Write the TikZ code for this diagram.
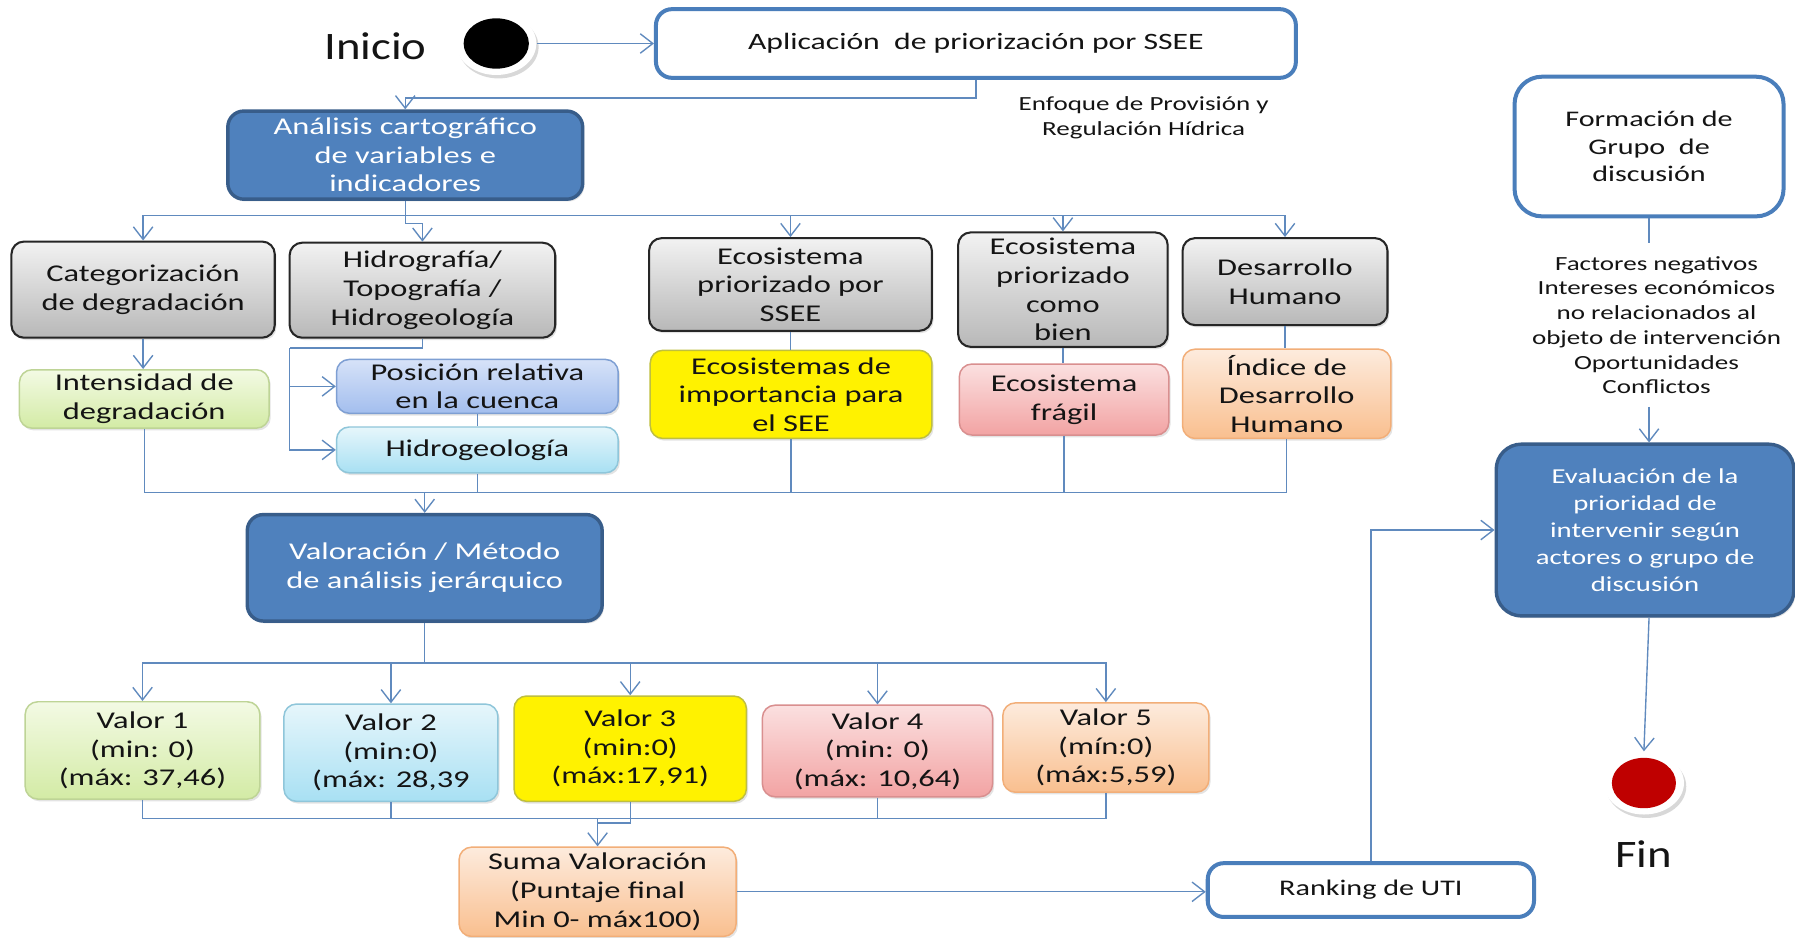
\documentclass[tikz,border=0pt]{standalone}
\usepackage{fontspec}
\setmainfont{Carlito}[FakeStretch=1.35]
\newfontfamily\bigfont{Carlito}[FakeStretch=1.2]
\usetikzlibrary{arrows.meta,shadows,calc,shapes.geometric}

\definecolor{wire}{RGB}{96,138,190}
\definecolor{frameblue}{RGB}{74,126,187}
\definecolor{fillblue}{RGB}{79,129,189}
\definecolor{darkblue}{RGB}{56,93,138}
\definecolor{ink}{RGB}{20,20,20}
\definecolor{grayT}{RGB}{242,242,242}
\definecolor{grayB}{RGB}{184,184,184}
\definecolor{grayD}{RGB}{38,38,38}
\definecolor{greenT}{RGB}{243,250,228}
\definecolor{greenB}{RGB}{211,235,165}
\definecolor{greenD}{RGB}{190,212,150}
\definecolor{periT}{RGB}{214,226,248}
\definecolor{periB}{RGB}{163,190,238}
\definecolor{periD}{RGB}{126,159,211}
\definecolor{cyanT}{RGB}{230,246,251}
\definecolor{cyanB}{RGB}{168,224,243}
\definecolor{cyanD}{RGB}{143,198,218}
\definecolor{yelD}{RGB}{191,191,63}
\definecolor{pinkT}{RGB}{251,224,224}
\definecolor{pinkB}{RGB}{242,163,163}
\definecolor{pinkD}{RGB}{217,143,143}
\definecolor{orT}{RGB}{253,235,221}
\definecolor{orB}{RGB}{249,191,143}
\definecolor{orD}{RGB}{242,174,120}

\tikzset{
  boxbase/.style={rounded corners=11pt, align=center, inner sep=2pt,
    font=\fontsize{21}{25}\selectfont, text=ink},
  softshadow/.style={drop shadow={opacity=0.22, shadow xshift=1.5pt, shadow yshift=-2pt}},
  graybox/.style={boxbase, draw=grayD, line width=1.8pt, top color=grayT, bottom color=grayB, softshadow},
  greenbox/.style={boxbase, draw=greenD, line width=1.3pt, top color=greenT, bottom color=greenB, softshadow},
  peribox/.style={boxbase, draw=periD, line width=1.3pt, top color=periT, bottom color=periB, softshadow},
  cyanbox/.style={boxbase, draw=cyanD, line width=1.3pt, top color=cyanT, bottom color=cyanB, softshadow},
  yelbox/.style={boxbase, draw=yelD, line width=1.3pt, fill=yellow, softshadow},
  pinkbox/.style={boxbase, draw=pinkD, line width=1.3pt, top color=pinkT, bottom color=pinkB, softshadow},
  orbox/.style={boxbase, draw=orD, line width=1.3pt, top color=orT, bottom color=orB, softshadow},
  bluebox/.style={boxbase, draw=darkblue, line width=3pt, fill=fillblue, text=white, rounded corners=14pt, softshadow},
  whitebox/.style={boxbase, draw=frameblue, line width=3.5pt, fill=white, rounded corners=14pt},
  wireline/.style={draw=wire, line width=1.2pt},
  conn/.style={wireline, -{Straight Barb[length=11pt,width=17pt]}},
  ring/.style={ellipse, fill=white, inner sep=0pt, drop shadow={opacity=0.3, shadow xshift=2pt, shadow yshift=-3pt}},
}

\begin{document}
\begin{tikzpicture}[x=1pt,y=-1pt]
\path[use as bounding box, fill=white] (0,0) rectangle (1568,819);

% start and end markers
\node[font=\bigfont\fontsize{34}{40}\selectfont, text=ink] (ini) at (328,40) {Inicio};
\node[ring, minimum width=70pt, minimum height=55pt] (start) at (433.5,38) {};
\fill[black] (start.center) ellipse [x radius=28.5pt, y radius=22pt];

\node[ring, minimum width=70pt, minimum height=55pt] (fin) at (1436,684) {};
\fill[red!75!black] (fin.center) ellipse [x radius=28pt, y radius=22pt];
\node[font=\bigfont\fontsize{34}{40}\selectfont, text=ink] (fintxt) at (1436,746) {Fin};

% top row
\node[whitebox, minimum width=559pt, minimum height=60pt, font=\fontsize{20.5}{25}\selectfont] (apl) at (852.5,38)
  {Aplicación\ \ de priorización por SSEE};
\node[align=center, font=\fontsize{17.5}{21.5}\selectfont, text=ink] (enf) at (999,103)
  {Enfoque de Provisión y\\Regulación Hídrica};
\node[bluebox, minimum width=310pt, minimum height=77pt] (ana) at (354,135.5)
  {Análisis cartográfico\\de variables e\\indicadores};

% first level
\node[graybox, minimum width=230pt, minimum height=84pt] (cat) at (125,253) {Categorización\\de degradación};
\node[graybox, minimum width=232pt, minimum height=83pt] (hid) at (369,253.5) {Hidrografía/\\Topografía /\\Hidrogeología};
\node[graybox, minimum width=247pt, minimum height=81pt] (eco1) at (690.5,248.5) {Ecosistema\\priorizado por\\SSEE};
\node[graybox, minimum width=183pt, minimum height=100pt] (eco2) at (928.5,253) {Ecosistema\\priorizado\\como\\bien};
\node[graybox, minimum width=179pt, minimum height=76pt] (des) at (1122.5,246) {Desarrollo\\Humano};

% indicators
\node[greenbox, minimum width=218pt, minimum height=51pt] (int) at (126,348.5) {Intensidad de\\degradación};
\node[peribox, minimum width=246pt, minimum height=47pt] (pos) at (417,337.5) {Posición relativa\\en la cuenca};
\node[cyanbox, minimum width=246pt, minimum height=40pt] (hgeo) at (417,393) {Hidrogeología};
\node[yelbox, minimum width=246pt, minimum height=77pt] (imp) at (691,344.5) {Ecosistemas de\\importancia para\\el SEE};
\node[pinkbox, minimum width=183pt, minimum height=62pt] (fra) at (929.5,349) {Ecosistema\\frágil};
\node[orbox, minimum width=182pt, minimum height=78pt] (idh) at (1124,344) {Índice de\\Desarrollo\\Humano};

% weighting
\node[bluebox, minimum width=310pt, minimum height=93pt] (val) at (371,496) {Valoración / Método\\de análisis jerárquico};

\node[greenbox, minimum width=205pt, minimum height=85pt] (v1) at (124.5,655.5) {Valor 1\\(min: 0)\\(máx: 37,46)};
\node[cyanbox, minimum width=187pt, minimum height=85pt] (v2) at (341.5,657.5) {Valor 2\\(min:0)\\(máx: 28,39};
\node[yelbox, minimum width=203pt, minimum height=92pt] (v3) at (550.5,654) {Valor 3\\(min:0)\\(máx:17,91)};
\node[pinkbox, minimum width=201pt, minimum height=80pt] (v4) at (766.5,656) {Valor 4\\(min: 0)\\(máx: 10,64)};
\node[orbox, minimum width=180pt, minimum height=78pt] (v5) at (966,653) {Valor 5\\(mín:0)\\(máx:5,59)};

\node[orbox, minimum width=242pt, minimum height=78pt] (suma) at (522,779) {Suma Valoración\\(Puntaje final\\Min 0- máx100)};
\node[whitebox, minimum width=285pt, minimum height=47pt, font=\fontsize{19.5}{24}\selectfont] (rank) at (1197.5,777.5) {Ranking de UTI};

% discussion group branch
\node[whitebox, minimum width=235pt, minimum height=122pt, rounded corners=24pt, font=\fontsize{19.5}{24}\selectfont] (form) at (1440.5,128)
  {Formación de\\Grupo\ \ de\\discusión};
\node[align=center, inner xsep=2pt, inner ysep=11pt, font=\fontsize{17.5}{21.6}\selectfont, text=ink] (fac) at (1447,284)
  {Factores negativos\\Intereses económicos\\no relacionados al\\objeto de intervención\\Oportunidades\\Conflictos};
\node[bluebox, minimum width=260pt, minimum height=150pt, rounded corners=22pt, font=\fontsize{18.6}{23.7}\selectfont] (eva) at (1437,463)
  {Evaluación de la\\prioridad de\\intervenir según\\actores o grupo de\\discusión};

% connectors
\draw[conn] (start.east) -- (apl.west);
\draw[conn] (apl.south) -- ++(0,16) -| (ana.north);
\foreach \t in {cat,eco1,eco2,des}
  \draw[conn] (ana.south) -- ++(0,13) -| (\t.north);
\draw[conn] (ana.south) -- ++(0,20) -| (hid.north);

\draw[conn] (cat.south) -- (cat.south |- int.north);
\coordinate (hj) at (253,304);
\draw[wireline] (hid.south) |- (hj);
\draw[conn] (hj) |- (pos.west);
\draw[conn] (hj) |- (hgeo.west);
\draw[wireline] (pos.south) -- (pos.south |- hgeo.north);
\draw[wireline] (eco1.south) -- (eco1.south |- imp.north);
\draw[wireline] (eco2.south) -- (eco2.south |- fra.north);
\draw[wireline] (des.south) -- (des.south |- idh.north);

\coordinate (vin) at (371,430);
\foreach \s in {int,hgeo,imp,fra,idh}
  \draw[wireline] (\s.south) |- (vin);
\draw[conn] (vin) -- (val.north);

\foreach \t in {v1,v2,v3,v4,v5}
  \draw[conn] (val.south) -- ++(0,35) -| (\t.north);

\coordinate (sin) at (522,715);
\foreach \s in {v1,v2,v4,v5}
  \draw[wireline] (\s.south) |- (sin);
\draw[wireline] (v3.south) |- ($(sin)+(0,4)$);
\draw[conn] (sin) -- (suma.north);

\draw[conn] (suma.east) -- (suma.east -| rank.west);
\draw[conn] (rank.north) |- (eva.west);
\draw[wireline] (form.south) -- (form.south |- fac.north);
\draw[conn] (form.south |- fac.south) -- (form.south |- eva.north);
\draw[conn] (form.south |- eva.south) -- (fin.north);
\end{tikzpicture}
\end{document}
